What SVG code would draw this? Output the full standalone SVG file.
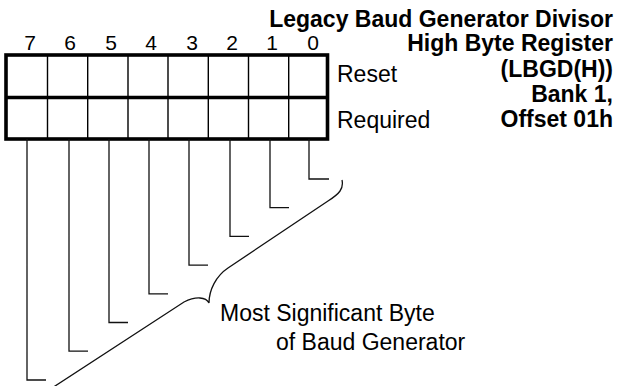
<svg xmlns="http://www.w3.org/2000/svg" width="621" height="386" viewBox="0 0 621 386">
<style>
text{font-family:"Liberation Sans",Arial,sans-serif;fill:#000}
.t{font-size:23px;font-weight:bold;text-anchor:end}
.d{font-size:21px;text-anchor:middle}
.l{font-size:23px}
.thin{stroke:#000;stroke-width:1.4;fill:none}
.thick{stroke:#000;stroke-width:3.6;fill:none}
.c{stroke:#111;stroke-width:1.3;fill:none}
</style>
<rect width="621" height="386" fill="#fff"/>
<g id="title">
<text class="t" x="613" y="27">Legacy Baud Generator Divisor</text>
<text class="t" x="613" y="51">High Byte Register</text>
<text class="t" x="613" y="77">(LBGD(H))</text>
<text class="t" x="613" y="102">Bank 1,</text>
<text class="t" x="613" y="127">Offset 01h</text>
</g>
<g id="bits">
<text class="d" x="30" y="50">7</text>
<text class="d" x="70" y="50">6</text>
<text class="d" x="111" y="50">5</text>
<text class="d" x="151" y="50">4</text>
<text class="d" x="192" y="50">3</text>
<text class="d" x="232" y="50">2</text>
<text class="d" x="272" y="50">1</text>
<text class="d" x="313" y="50">0</text>
</g>
<g id="register">
<path class="thin" d="M47.5,55V139M87.7,55V139M128,55V139M168,55V139M208.3,55V139M248.5,55V139M288.7,55V139"/>
<rect class="thick" x="6" y="55" width="321.5" height="84"/>
<line class="thick" x1="6" y1="97.5" x2="327.5" y2="97.5"/>
</g>
<g id="row-labels">
<text class="l" x="337" y="82">Reset</text>
<text class="l" x="337" y="128">Required</text>
</g>
<g id="connectors">
<path class="c" d="M27,139V380H46M69,139V351.2H88M109,139V322.5H128M149,139V293.8H168M189,139V265.1H208M230,139V236.4H249M270,139V207.7H289M309,139V179H329"/>
<path class="c" d="M342,180C344,189 339,194 328,201L228,268C216,276 209,290 209,303C206,297 196,296 184,302L52,388"/>
</g>
<g id="brace-label">
<text class="l" x="220" y="321">Most Significant Byte</text>
<text class="l" x="276" y="350">of Baud Generator</text>
</g>
</svg>
